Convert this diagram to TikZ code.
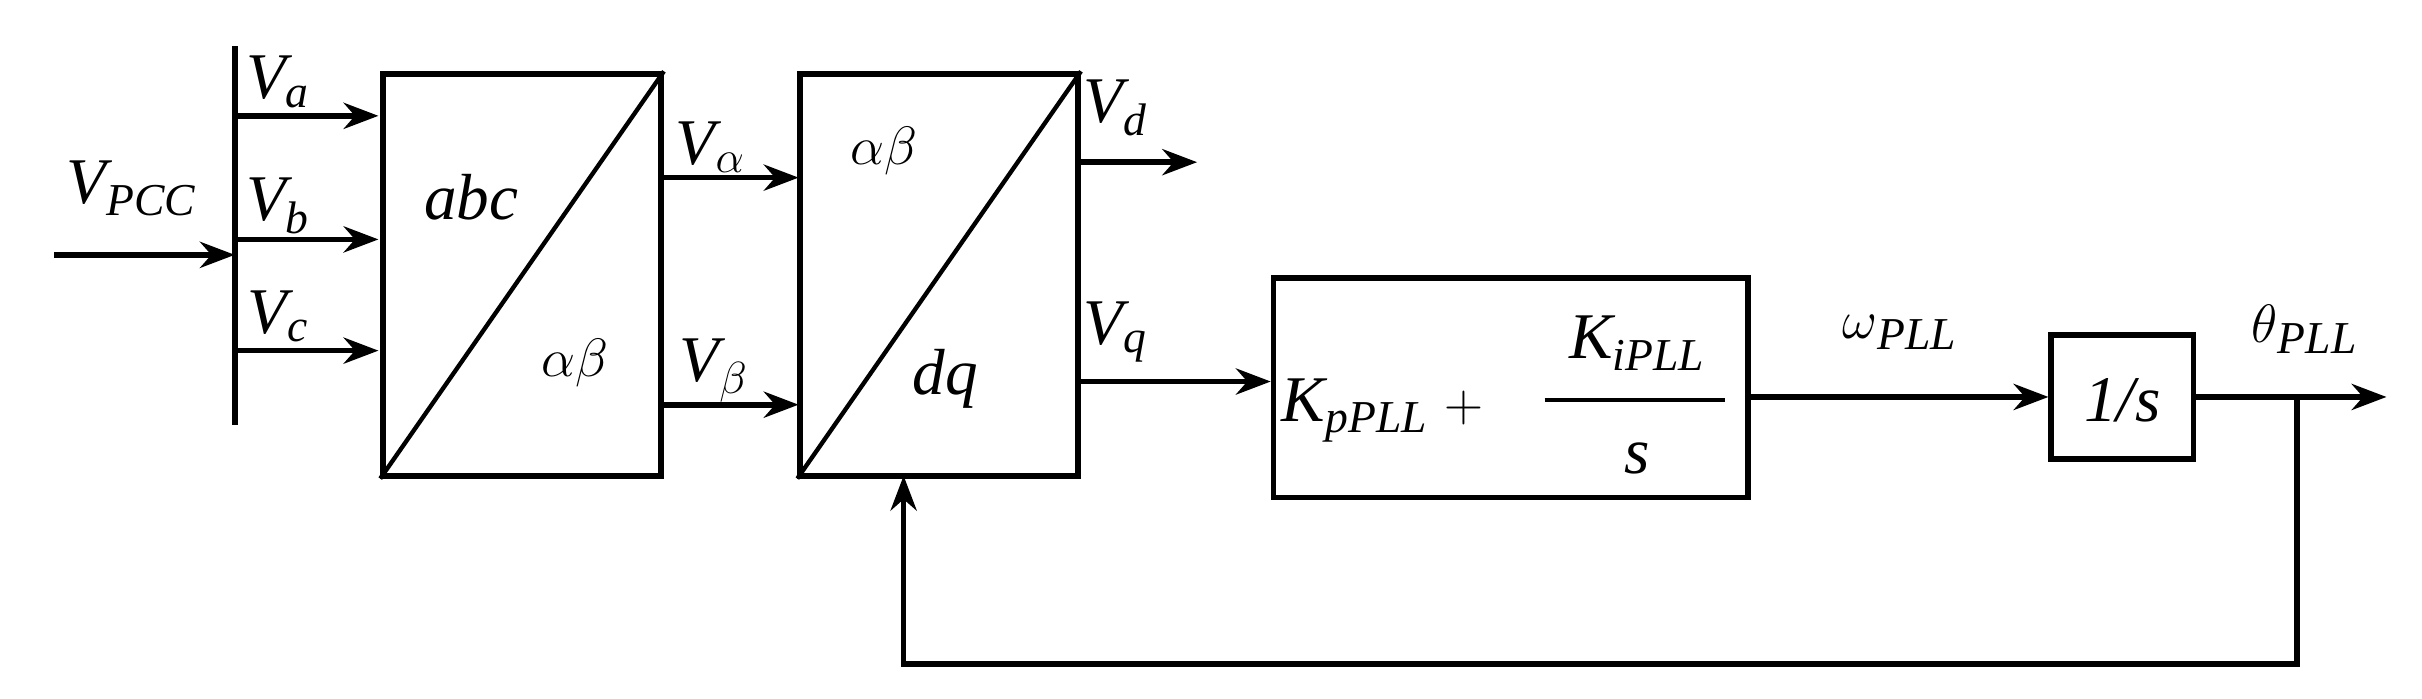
\documentclass[tikz,border=0pt]{standalone}
\usepackage{fontspec}
\setmainfont{Liberation Serif}
\usetikzlibrary{arrows.meta}
\begin{document}
\begin{tikzpicture}[x=0.025cm,y=-0.025cm,
  ln/.style={line width=2.6pt},
  ar/.style={ln,-{Stealth[length=16pt,width=12pt]}},
  blk/.style={draw,line width=2.6pt,inner sep=0pt},
  lb/.style={font=\fontsize{30}{34}\selectfont\itshape,inner sep=0pt}]
\useasboundingbox (0,0) rectangle (1568,452);
% bus
\coordinate (bt) at (152,30); \coordinate (bb) at (152,275);
\draw[ln] (bt) -- (bb);
\coordinate (in) at (35,165); \coordinate (inE) at (152,165);
\draw[ar] (in) -- (inE);
\node[lb] (vpcc) at (85,122) {V\textsubscript{\fontsize{21}{24}\selectfont PCC}};
% box1
\node[blk,minimum width=180*0.025cm,minimum height=260*0.025cm] (b1) at (338,178) {};
\draw[line width=2pt] (b1.south west) -- (b1.north east);
\node[lb] (abc) at (305,128) {abc};
\node[lb] (ab1) at (372,235) {$\alpha\beta$};
\foreach \y/\n/\s in {75/a/a,155/b/b,227/c/c}{
  \coordinate (s\n) at (152,\y); \coordinate (e\n) at (245,\y);
  \draw[ar] (s\n) -- (e\n);
  \node[lb] (l\n) at (180,\y-22) {V\textsubscript{\fontsize{21}{24}\selectfont\itshape \s}};
}
% box2
\node[blk,minimum width=180*0.025cm,minimum height=260*0.025cm] (b2) at (608,178) {};
\draw[line width=2pt] (b2.south west) -- (b2.north east);
\node[lb] (ab2) at (572,98) {$\alpha\beta$};
\node[lb] (dq) at (612,245) {dq};
\coordinate (va1) at (428,115); \coordinate (va2) at (517,115);
\draw[ar] (va1) -- (va2);
\node[lb] (lva) at (460,95) {V$_{\alpha}$};
\coordinate (vb1) at (428,262); \coordinate (vb2) at (517,262);
\draw[ar] (vb1) -- (vb2);
\node[lb] (lvb) at (462,240) {V$_{\beta}$};
\coordinate (vd1) at (698,105); \coordinate (vd2) at (775,105);
\draw[ar] (vd1) -- (vd2);
\node[lb] (lvd) at (722,70) {V\textsubscript{\fontsize{21}{24}\selectfont\itshape d}};
\coordinate (vq1) at (698,247);
% PI
\node[blk,minimum width=307*0.025cm,minimum height=142*0.025cm] (pi) at (978,251) {};
\node[lb] (kp) at (895,266) {K\textsubscript{\fontsize{21}{24}\selectfont\itshape pPLL} $+$};
\node[lb] (ki) at (1060,222) {K\textsubscript{\fontsize{21}{24}\selectfont\itshape iPLL}};
\node[lb] (s) at (1060,297) {s};
\draw[line width=1.5pt] (1000,259) -- (1117,259);
\draw[ar] (vq1) -- (vq1 -| pi.west);
\node[lb] (lvq) at (722,215) {V\textsubscript{\fontsize{21}{24}\selectfont\itshape q}};
% integrator
\node[blk,minimum width=92*0.025cm,minimum height=80*0.025cm] (int) at (1374,257) {};
\node[lb] (intt) at (1374,259) {1/s};
\draw[ar] (pi.east |- int.west) -- (int.west);
\node[lb] (lw) at (1230,215) {$\omega$\textsubscript{\fontsize{21}{24}\selectfont\itshape PLL}};
\coordinate (out) at (1545,257);
\draw[ar] (int.east) -- (out);
\node[lb] (lt) at (1492,213) {$\theta$\textsubscript{\fontsize{21}{24}\selectfont\itshape PLL}};
% feedback
\coordinate (fb) at (1487,257);
\draw[ar] (fb) -- (1487,430) -- (585,430) -- (585,308);
\end{tikzpicture}
\end{document}
